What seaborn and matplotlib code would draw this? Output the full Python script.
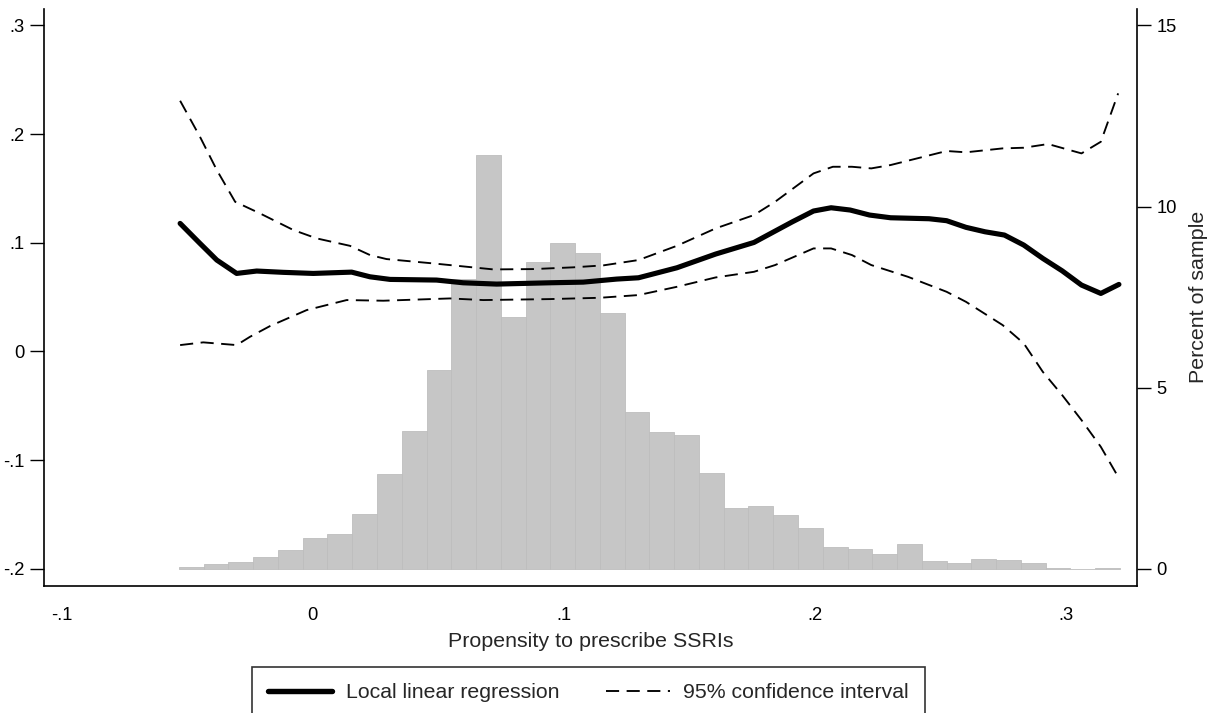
import numpy as np
import pandas as pd
import matplotlib
matplotlib.use("Agg")
import matplotlib.pyplot as plt
import seaborn as sns
from matplotlib.lines import Line2D

# ---------------- data ----------------
hist_min, hist_max = -0.0532, 0.3215
hist_pct = [0.05, 0.14, 0.18, 0.34, 0.52, 0.86, 0.96, 1.51, 2.62, 3.81,
            5.49, 8.00, 11.43, 6.95, 8.47, 9.00, 8.71, 7.05, 4.33, 3.78,
            3.70, 2.65, 1.69, 1.74, 1.49, 1.14, 0.61, 0.55, 0.40, 0.68,
            0.22, 0.17, 0.27, 0.25, 0.16, 0.03, 0.00, 0.03]

fit_x = [-0.0527, -0.0448, -0.0381, -0.0302, -0.0222, -0.0116, 0.0003, 0.0156,
         0.0229, 0.0309, 0.0494, 0.0600, 0.0733, 0.0945, 0.1078, 0.1211, 0.1298,
         0.1451, 0.1605, 0.1758, 0.1911, 0.1995, 0.2065, 0.2141, 0.2218, 0.2302,
         0.2455, 0.2525, 0.2602, 0.2678, 0.2755, 0.2832, 0.2908, 0.2985, 0.3062,
         0.3139, 0.3211]
fit_y = [0.1178, 0.0994, 0.0841, 0.0718, 0.0740, 0.0728, 0.0718, 0.0730,
         0.0687, 0.0663, 0.0657, 0.0632, 0.0620, 0.0632, 0.0638, 0.0666, 0.0678,
         0.0770, 0.0896, 0.1003, 0.1193, 0.1292, 0.1322, 0.1301, 0.1255, 0.1230,
         0.1221, 0.1203, 0.1142, 0.1101, 0.1071, 0.0979, 0.0856, 0.0742, 0.0611,
         0.0534, 0.0617]

up_x = [-0.0527, -0.0448, -0.0381, -0.0308, -0.0209, -0.0076, 0.0017, 0.0149,
        0.0229, 0.0295, 0.0481, 0.0720, 0.0879, 0.1038, 0.1158, 0.1298, 0.1451,
        0.1605, 0.1758, 0.1842, 0.1995, 0.2072, 0.2148, 0.2225, 0.2302, 0.2525,
        0.2602, 0.2748, 0.2832, 0.2929, 0.3062, 0.3139, 0.3208]
up_y = [0.2306, 0.1975, 0.1669, 0.1377, 0.1270, 0.1117, 0.1040, 0.0972,
        0.0887, 0.0850, 0.0810, 0.0755, 0.0758, 0.0774, 0.0792, 0.0841, 0.0972,
        0.1132, 0.1255, 0.1377, 0.1638, 0.1699, 0.1699, 0.1684, 0.1715, 0.1844,
        0.1832, 0.1868, 0.1874, 0.1908, 0.1822, 0.1929, 0.2374]

lo_x = [-0.0527, -0.0435, -0.0302, -0.0249, -0.0169, -0.0023, 0.0136, 0.0282,
        0.0547, 0.0680, 0.0945, 0.1144, 0.1298, 0.1451, 0.1605, 0.1758, 0.1842,
        0.1995, 0.2065, 0.2148, 0.2225, 0.2371, 0.2525, 0.2602, 0.2748, 0.2832,
        0.2908, 0.2985, 0.3062, 0.3139, 0.3208]
lo_y = [0.0059, 0.0084, 0.0059, 0.0135, 0.0234, 0.0381, 0.0473, 0.0467,
        0.0488, 0.0473, 0.0482, 0.0494, 0.0519, 0.0595, 0.0681, 0.0733, 0.0795,
        0.0948, 0.0948, 0.0887, 0.0795, 0.0687, 0.0549, 0.0457, 0.0243, 0.0075,
        -0.0187, -0.0401, -0.0631, -0.0877, -0.1153]

x_ticks = [-0.1, 0.0, 0.1, 0.2, 0.3]
x_ticklabels = ["-.1", "0", ".1", ".2", ".3"]
y_ticks = [-0.2, -0.1, 0.0, 0.1, 0.2, 0.3]
y_ticklabels = ["-.2", "-.1", "0", ".1", ".2", ".3"]
pct_ticks = [0, 5, 10, 15]
pct_ticklabels = ["0", "5", "10", "15"]

x_label = "Propensity to prescribe SSRIs"
y2_label = "Percent of sample"
fit_label = "Local linear regression"
ci_label = "95% confidence interval"

# ---------------- style ----------------
sns.set_style("white")
plt.rcParams["font.family"] = ["Liberation Sans", "DejaVu Sans"]

W, H = 1214, 713
fig = plt.figure(figsize=(W / 100, H / 100), dpi=100)
fig.patch.set_facecolor("white")
L, R, T, B = 44, 1137, 9, 585.7
ax = fig.add_axes([L / W, 1 - B / H, (R - L) / W, (B - T) / H])
ax2 = ax.twinx()

# histogram on secondary (percent) axis
nbins = len(hist_pct)
binw = (hist_max - hist_min) / nbins
centers = [hist_min + binw * (i + 0.5) for i in range(nbins)]
hist_df = pd.DataFrame({"x": centers, "pct": hist_pct})
sns.histplot(data=hist_df, x="x", weights="pct", bins=nbins,
             binrange=(hist_min, hist_max), ax=ax2,
             color="#c6c6c6", edgecolor="#bdbdbd", linewidth=0.6,
             alpha=1.0, element="bars", fill=True)

# lines on primary axis
fit_df = pd.DataFrame({"x": fit_x, "y": fit_y})
up_df = pd.DataFrame({"x": up_x, "y": up_y})
lo_df = pd.DataFrame({"x": lo_x, "y": lo_y})
sns.lineplot(data=fit_df, x="x", y="y", ax=ax, color="black", lw=3.7,
             estimator=None)
sns.lineplot(data=up_df, x="x", y="y", ax=ax, color="black", lw=1.35,
             estimator=None)
sns.lineplot(data=lo_df, x="x", y="y", ax=ax, color="black", lw=1.35,
             estimator=None)
for ln in ax.lines[1:]:
    ln.set_dashes((7, 4))

ax.set_zorder(ax2.get_zorder() + 1)
ax.patch.set_visible(False)

ylo, yhi = -0.2154, 0.315
ax.set_xlim(-0.1069, 0.3283)
ax.set_ylim(ylo, yhi)
ax2.set_ylim((ylo + 0.2) * 30, (yhi + 0.2) * 30)

ax.set_xticks(x_ticks)
ax.set_xticklabels(x_ticklabels)
ax.set_yticks(y_ticks)
ax.set_yticklabels(y_ticklabels)
ax2.set_yticks(pct_ticks)
ax2.set_yticklabels(pct_ticklabels)

for a in (ax, ax2):
    a.spines["top"].set_visible(False)
    for s in a.spines.values():
        s.set_color("black")
        s.set_linewidth(1.2)
ax.spines["right"].set_visible(False)
ax2.spines["left"].set_visible(False)
ax2.spines["bottom"].set_visible(False)

ax.tick_params(axis="both", direction="out", length=10, width=1.0,
               colors="black", labelsize=13.2, pad=4)
ax.tick_params(axis="x", pad=5)
ax2.tick_params(axis="y", direction="out", length=10, width=1.0,
                colors="black", labelsize=13.2, pad=4)

ax.set_xlabel(x_label, fontsize=15.4, labelpad=6)
ax.set_ylabel("")
ax2.set_xlabel("")
ax2.set_ylabel(y2_label, fontsize=15.4, labelpad=9)
ax.grid(False)
ax2.grid(False)

h_fit = Line2D([], [], color="black", lw=3.9)
h_ci = Line2D([], [], color="black", lw=1.35, dashes=(7, 4))
leg = fig.legend([h_fit, h_ci], [fit_label, ci_label], ncol=2,
                 loc="upper center", bbox_to_anchor=(588.5 / W, 1 - 667 / H),
                 frameon=True, fancybox=False, edgecolor="black",
                 fontsize=15.3, handlelength=3.0, handletextpad=0.65,
                 columnspacing=2.2, borderpad=0.75, borderaxespad=0)
leg.get_frame().set_linewidth(1.2)

fig.savefig("out.png", dpi=100)
